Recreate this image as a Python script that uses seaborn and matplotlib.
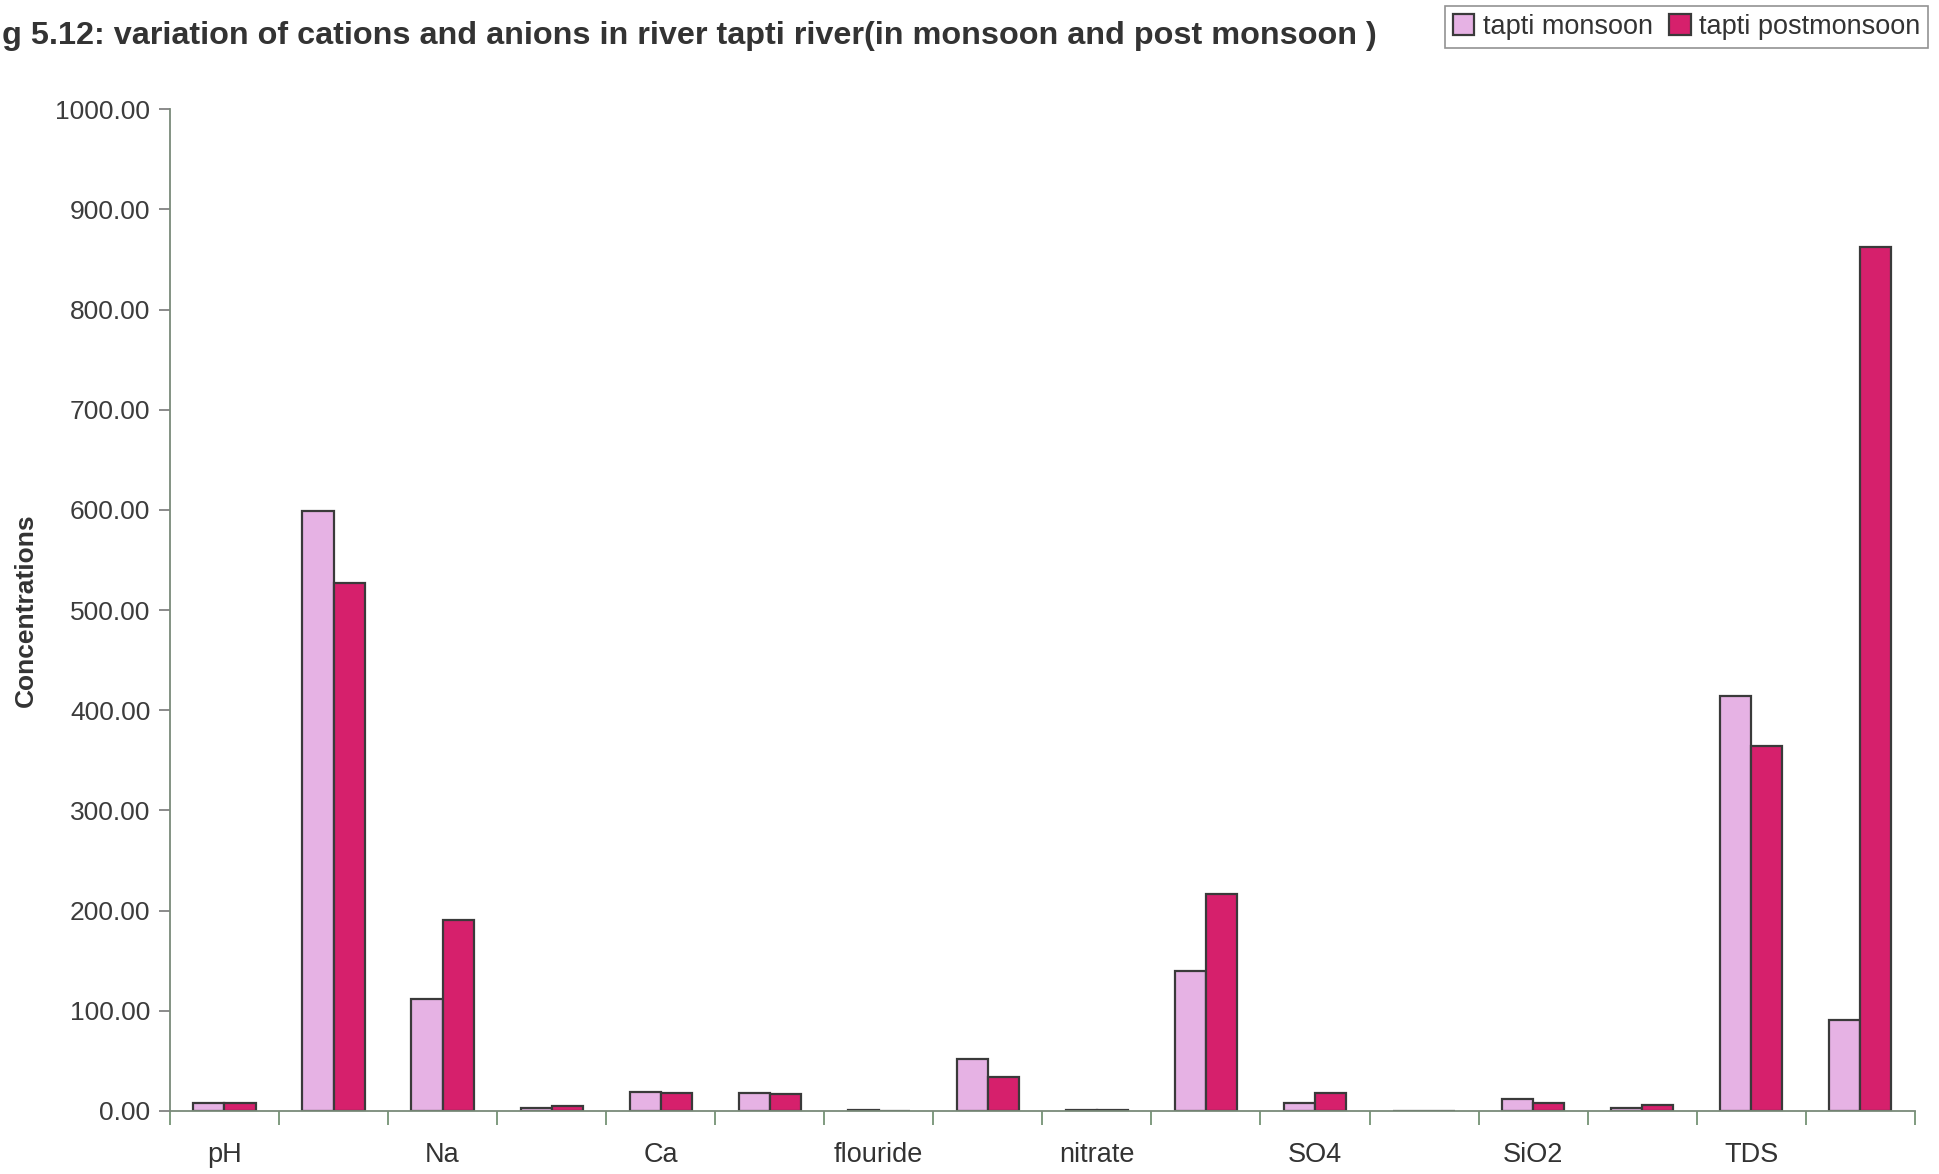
import numpy as np
import pandas as pd
import matplotlib
matplotlib.use("Agg")
import matplotlib.pyplot as plt
import seaborn as sns

# ---- data ----
categories = ["pH", "EC", "Na", "K", "Ca", "Mg", "flouride", "chloride",
              "nitrate", "alkalinity", "SO4", "PO4", "SiO2", "Fe", "TDS", "TH"]
shown_labels = ["pH", "", "Na", "", "Ca", "", "flouride", "", "nitrate", "",
                "SO4", "", "SiO2", "", "TDS", ""]
monsoon = [7.5, 599, 112, 3, 18.5, 18, 0.5, 52, 1.2, 140, 8, 0.3, 12, 3, 414, 91]
postmonsoon = [8, 527, 191, 5, 18, 17, 0.4, 34, 1.0, 217, 18, 0.1, 8, 6, 364, 862]
series_names = ["tapti monsoon", "tapti postmonsoon"]
yticks = [0, 100, 200, 300, 400, 500, 600, 700, 800, 900, 1000]

df = pd.DataFrame({
    "param": categories * 2,
    "value": monsoon + postmonsoon,
    "season": [series_names[0]] * len(categories) + [series_names[1]] * len(categories),
})

sns.set_theme(style="white")
plt.rcParams["font.family"] = ["Liberation Sans", "DejaVu Sans"]

fig = plt.figure(figsize=(19.4, 11.74), dpi=100)
ax = fig.add_axes([0.0876, 0.0537, 0.8994, 0.8533])

palette = {series_names[0]: "#E6B2E4", series_names[1]: "#D6206C"}
sns.barplot(data=df, x="param", y="value", hue="season", order=categories,
            hue_order=series_names, palette=palette, width=0.57,
            edgecolor="#3a3a3a", linewidth=1.6, saturation=1, ax=ax,
            errorbar=None, legend=True)

ax.set_xlim(-0.5, len(categories) - 0.5)
ax.set_ylim(0, 1000)
ax.set_yticks(yticks)
ax.set_yticklabels([f"{v:.2f}" for v in yticks], fontsize=19, color="#3c3c3c")

# category boundary tick marks, labels every other category
ax.set_xticks(np.arange(-0.5, len(categories), 1.0))
ax.set_xticklabels([])
ax.set_xticks(np.arange(len(categories)), minor=True)
ax.set_xticklabels(shown_labels, minor=True, fontsize=19.5, color="#333333")
ax.tick_params(axis="x", which="major", direction="out", length=10, width=1.2,
               color="#6a8a6a", bottom=True)
ax.tick_params(axis="x", which="minor", length=0, pad=22)
ax.tick_params(axis="y", which="major", direction="out", length=8, width=1.2,
               color="#777777", left=True, pad=6)

for s in ["top", "right"]:
    ax.spines[s].set_visible(False)
for s in ["left", "bottom"]:
    ax.spines[s].set_color("#7a8a7a")
    ax.spines[s].set_linewidth(1.3)

ax.set_xlabel("")
ax.set_ylabel("Concentrations", fontsize=19, fontweight="bold", color="#333333")
ax.yaxis.set_label_coords(38 / 1940, 1 - 610 / 1174, transform=fig.transFigure)

fig.text(0.001, 1 - 36 / 1174, "g 5.12: variation of cations and anions in river tapti river(in monsoon and post monsoon )",
         fontsize=23.3, fontweight="bold", color="#333333", ha="left", va="center")

leg = ax.legend(loc="upper right", bbox_to_anchor=(1928 / 1940, 1 - 6 / 1174),
                bbox_transform=fig.transFigure, ncol=2, frameon=True,
                fontsize=19.5, handlelength=0.8, handleheight=0.8,
                handletextpad=0.3, columnspacing=0.6, borderpad=0.3,
                borderaxespad=0, fancybox=False, labelcolor="#333333")
leg.get_frame().set_edgecolor("#777777")
leg.get_frame().set_linewidth(1.2)

fig.savefig("out.png", dpi=100, facecolor="white")
